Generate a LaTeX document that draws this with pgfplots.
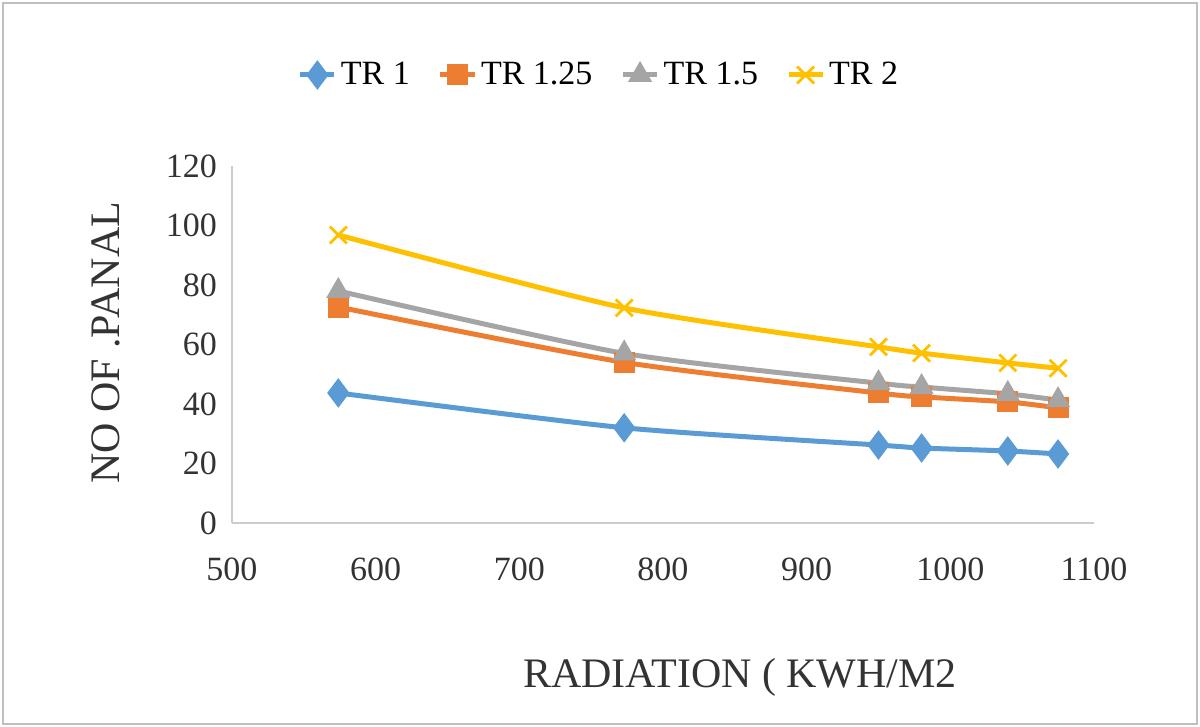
\documentclass[border=0pt]{standalone}
\usepackage{pgfplots}
\pgfplotsset{compat=1.18}
\usepackage{fontspec}
\setmainfont{Liberation Serif}
\definecolor{cb}{HTML}{5B9BD5}
\definecolor{co}{HTML}{ED7D31}
\definecolor{cg}{HTML}{A5A5A5}
\definecolor{cy}{HTML}{FFC000}
\begin{document}
\begin{tikzpicture}[x=1pt,y=1pt]
\path[use as bounding box] (-116,-102) rectangle (484,261.5);
\draw[gray!50,line width=0.6pt] (-114.5,-100.5) rectangle (482.5,260);
\begin{axis}[at={(0,0)},anchor=origin,scale only axis,width=431pt,height=178.5pt,
 xmin=500,xmax=1100,ymin=0,ymax=120,xtick={500,600,...,1100},ytick={0,20,...,120},
 axis x line*=bottom,axis y line*=left,axis line style={gray!40,line width=0.8pt},
 tick style={draw=none},
 /pgf/number format/assume math mode=true,
 /pgf/number format/1000 sep={},
 ticklabel style={font=\fontsize{17}{20}\selectfont,text=black!80},
 xticklabel style={yshift=-14pt},
 yticklabel style={xshift=-4pt},
 legend style={at={(0.5,1)},anchor=center,yshift=45.5pt,xshift=-31.5pt,draw=none,font=\fontsize{17}{20}\selectfont,legend columns=4,/tikz/every even column/.style={column sep=12pt}},
 legend image post style={sharp plot},
 every axis plot/.append style={line width=2.5pt,smooth,tension=0.4},
 clip=false]
\addplot[cb,mark=diamond*,mark size=7pt,mark options={solid,line width=0.5pt}] coordinates {(574,43.7)(773,32)(950,26.2)(980,25.2)(1040,24.2)(1075,23.2)};
\addlegendentry{TR 1}
\addplot[co,mark=square*,mark size=5pt,mark options={solid,line width=0.5pt}] coordinates {(574,72.6)(773,54)(950,43.7)(980,42.4)(1040,40.7)(1075,38.7)};
\addlegendentry{TR 1.25}
\addplot[cg,mark=triangle*,mark size=6.5pt,mark options={solid,line width=0.5pt}] coordinates {(574,78)(773,57)(950,47)(980,45.7)(1040,43.4)(1075,41.3)};
\addlegendentry{TR 1.5}
\addplot[cy,mark=x,mark size=6pt,mark options={solid,line width=1.4pt}] coordinates {(574,96.8)(773,72.3)(950,59.2)(980,57.1)(1040,53.8)(1075,52)};
\addlegendentry{TR 2}
\end{axis}
\node[rotate=90,font=\fontsize{21}{24}\selectfont,text=black!80] at (-63,90) {NO OF .PANAL};
\node[font=\fontsize{21}{24}\selectfont,text=black!80] at (254,-77) {RADIATION ( KWH/M2};
\end{tikzpicture}
\end{document}
